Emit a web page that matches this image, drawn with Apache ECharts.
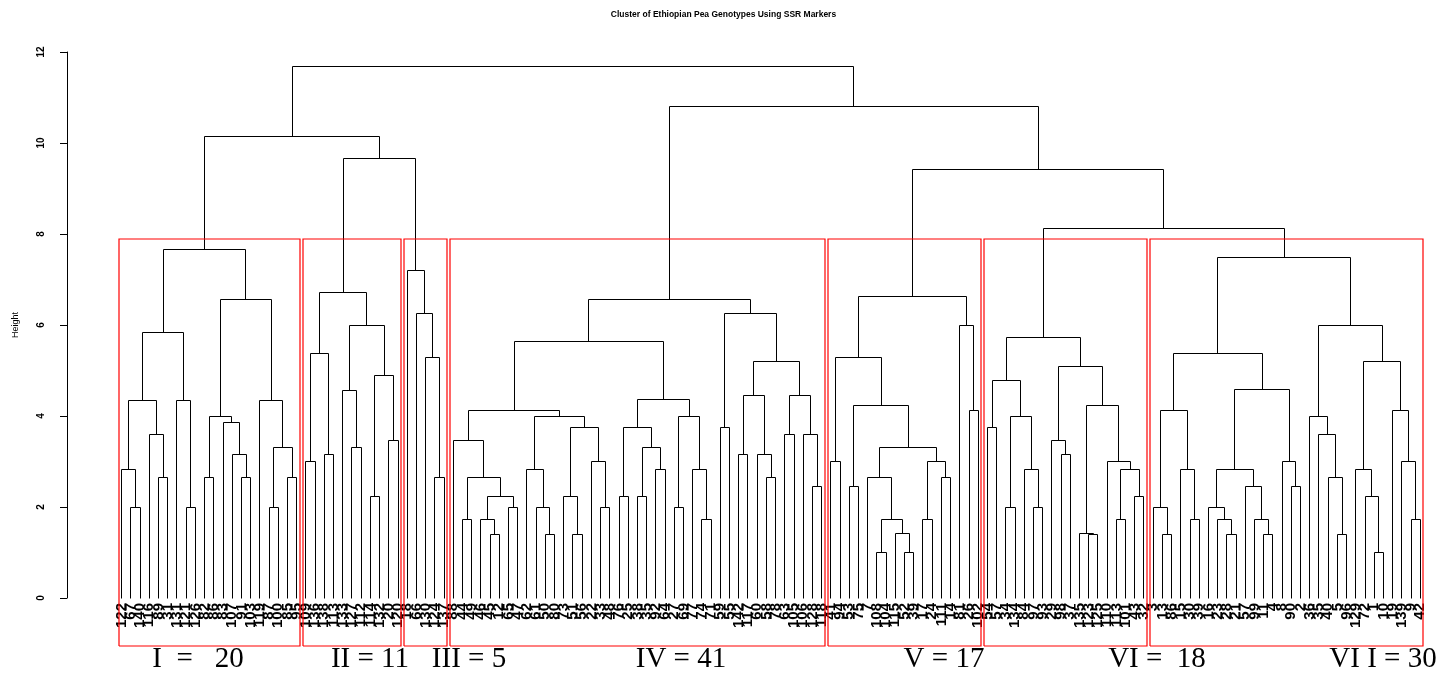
<!DOCTYPE html>
<html>
<head>
<meta charset="utf-8">
<title>Cluster of Ethiopian Pea Genotypes Using SSR Markers</title>
<script src="https://cdn.jsdelivr.net/npm/echarts@6/dist/echarts.min.js"></script>
<style>
  html, body { margin: 0; padding: 0; background: #fff; }
  #chart { width: 1447px; height: 674px; }
</style>
</head>
<body>
<div id="chart"></div>
<script>
// every node is [height, left, right]; a bare number is a genotype (leaf)
const clusterI = [7.66,
  [5.83,
    [4.35, [2.83, 122, [1.99, 67, 140]], [3.6, 116, [2.64, 89, 31]]],
    [4.35, 131, [1.99, 121, 126]]],
  [6.55,
    [4.0, [2.64, 82, 86], [3.85, 83, [3.16, 107, [2.64, 91, 103]]]],
    [4.35, 119, [3.31, [1.99, 87, 100], [2.64, 85, 95]]]]]

const clusterII = [6.71,
  [5.38, [3.0, 109, 136], [3.15, 138, 113]],
  [5.99, [4.57, 133, [3.3, 127, 112]], [4.89, [2.23, 114, 132], [3.46, 20, 120]]]]

const clusterIII = [7.2, 18, [6.25, 66, [5.28, 130, [2.64, 124, 137]]]]

const clusterIV = [6.55,
  [5.64,
    [4.12,
      [3.46, 88, [2.64, [1.73, 44, 49], [2.23, [1.73, 46, [1.4, 45, 12]], [1.98, 65, 47]]]],
      [3.99,
        [2.83, 62, [1.98, 61, [1.4, 50, 80]]],
        [3.74, [2.23, 73, [1.4, 51, 56]], [3.0, 22, [1.98, 33, 48]]]]],
    [4.37,
      [3.74, [2.23, 76, 25], [3.31, [2.23, 38, 35], [2.83, 92, 64]]],
      [3.99, [1.98, 27, 69], [2.83, 77, [1.73, 74, 71]]]]],
  [6.25,
    [3.74, 59, 55],
    [5.2,
      [4.46, [3.16, 142, 117], [3.16, 60, [2.64, 58, 78]]],
      [4.46, [3.6, 63, 105], [3.6, 106, [2.45, 128, 118]]]]]]

const clusterV = [6.62,
  [5.28,
    [3.0, 41, 94],
    [4.24,
      [2.45, 53, 75],
      [3.31,
        [2.64, 7, [1.73, [1.0, 108, 104], [1.41, 115, [1.0, 52, 39]]]],
        [3.0, [1.73, 17, 24], [2.64, 111, 14]]]]],
  [5.98, 81, [4.11, 26, 102]]]

const clusterVI = [5.73,
  [4.78, [3.74, 54, 57], [3.99, [1.98, 34, 134], [2.83, 84, [1.98, 97, 93]]]],
  [5.09,
    [3.46, 29, [3.15, 98, 37]],
    [4.23, [1.41, 135, [1.4, 123, 125]], [3.0, 110, [2.83, [1.73, 113, 101], [2.23, 43, 32]]]]]]

const clusterVII = [7.48,
  [5.38,
    [4.12, [1.99, 3, [1.4, 13, 86]], [2.83, 15, [1.73, 30, 39]]],
    [4.58,
      [2.83, [1.99, 16, [1.73, 23, [1.4, 28, 21]]], [2.45, 57, [1.73, 99, [1.4, 11, 4]]]],
      [3.0, 8, [2.45, 90, 2]]]],
  [5.98,
    [3.99, 36, [3.6, 35, [2.64, 40, [1.4, 5, 96]]]],
    [5.2, [2.83, 129, [2.23, 72, [1.0, 1, 10]]], [4.12, 19, [3.0, 139, [1.73, 9, 42]]]]]]

const upperTree = [11.69,
  [10.15, clusterI, [9.65, clusterII, clusterIII]],
  [10.81, clusterIV, [9.41, clusterV, [8.11, clusterVI, clusterVII]]]]

const clusters = [clusterI, clusterII, clusterIII, clusterIV, clusterV, clusterVI, clusterVII]
const clusterNames = ['I  =   20', 'II = 11', 'III = 5', 'IV = 41', 'V = 17', 'VI =  18', 'VI I = 30']
const cutHeight = (8.11 + 7.66) / 2

const leafLabels = []
const links = []
function layout(node) {
  if (!Array.isArray(node)) {
    leafLabels.push(String(node))
    return { x: leafLabels.length - 1, h: 0 }
  }
  const l = layout(node[1])
  const r = layout(node[2])
  links.push([l.x, l.h, r.x, r.h, node[0]])
  return { x: (l.x + r.x) / 2, h: node[0] }
}
layout(upperTree)

function countLeaves(node) {
  return Array.isArray(node) ? countLeaves(node[1]) + countLeaves(node[2]) : 1
}
const boxes = []
let start = 0
clusters.forEach(c => {
  const n = countLeaves(c)
  boxes.push([start - 0.34, start + n - 1 + 0.33, cutHeight])
  start += n
})

const nameX = [198, 370, 469, 681, 944, 1157, 1383] // hand placed, as in the figure
const snap = v => Math.round(v - 0.5) + 0.5
const font = 'Liberation Sans'

const chart = echarts.init(document.getElementById('chart'))
chart.setOption({
  animation: false,
  backgroundColor: '#fff',
  title: {
    text: 'Cluster of Ethiopian Pea Genotypes Using SSR Markers',
    left: 'center',
    top: 5,
    textStyle: { fontFamily: font, fontSize: 8.5, fontWeight: 'bold', color: '#000' }
  },
  grid: [
    { left: 117.1, right: 22.1, top: 52, bottom: 76 },
    { left: 67, width: 10, top: 52, bottom: 76 } // holds the height axis, set off from the tree
  ],
  xAxis: [{
    type: 'value',
    min: -0.5,
    max: leafLabels.length - 0.5,
    show: false
  }, {
    type: 'category',
    position: 'bottom',
    data: leafLabels.map((d, i) => String(i)),
    axisLine: { show: false },
    axisTick: { show: false },
    axisLabel: {
      interval: 0,
      rotate: 90,
      margin: 5,
      fontFamily: font,
      fontSize: 15,
      fontWeight: 'bold',
      color: '#000',
      formatter: (v, i) => leafLabels[i]
    }
  }, {
    type: 'value',
    gridIndex: 1,
    show: false
  }],
  yAxis: [{
    type: 'value',
    min: 0,
    max: 12,
    show: false
  }, {
    type: 'value',
    gridIndex: 1,
    min: 0,
    max: 12,
    interval: 2,
    name: 'Height',
    nameLocation: 'middle',
    nameGap: 47,
    nameTextStyle: { fontFamily: font, fontSize: 9, color: '#000' },
    axisLine: { show: true, lineStyle: { color: '#000', width: 1 } },
    axisTick: { show: true, length: 7, lineStyle: { color: '#000' } },
    axisLabel: {
      rotate: 90,
      margin: 21,
      fontFamily: font,
      fontSize: 10,
      fontWeight: 'bold',
      color: '#000'
    },
    splitLine: { show: false }
  }],
  series: [{
    type: 'custom',
    name: 'tree',
    xAxisIndex: 0,
    yAxisIndex: 0,
    silent: true,
    data: links,
    renderItem: (params, api) => {
      const pts = [
        [api.value(0), api.value(1)],
        [api.value(0), api.value(4)],
        [api.value(2), api.value(4)],
        [api.value(2), api.value(3)]
      ].map(p => api.coord(p)).map(p => [snap(p[0]), snap(p[1])])
      return {
        type: 'polyline',
        shape: { points: pts },
        style: { stroke: '#000', lineWidth: 1, fill: null }
      }
    }
  }, {
    type: 'custom',
    name: 'groups',
    xAxisIndex: 0,
    yAxisIndex: 0,
    silent: true,
    clip: false,
    z: 3,
    data: boxes,
    renderItem: (params, api) => {
      const a = api.coord([api.value(0), api.value(2)])
      const b = api.coord([api.value(1), -1.05])
      const x0 = Math.round(a[0]), x1 = Math.round(b[0]), y0 = Math.round(a[1]), y1 = Math.round(b[1])
      return {
        type: 'polyline',
        shape: { points: [[x0, y1], [x0, y0], [x1, y0], [x1, y1], [x0, y1]] },
        style: { stroke: '#ff0000', lineWidth: 1.2, fill: null }
      }
    }
  }],
  graphic: clusterNames.map((t, i) => ({
    type: 'text',
    x: nameX[i],
    y: 659,
    silent: true,
    style: {
      text: t,
      fill: '#000',
      font: '29px "Liberation Serif", "Times New Roman", serif',
      align: 'center',
      verticalAlign: 'middle'
    }
  }))
})
</script>
</body>
</html>
